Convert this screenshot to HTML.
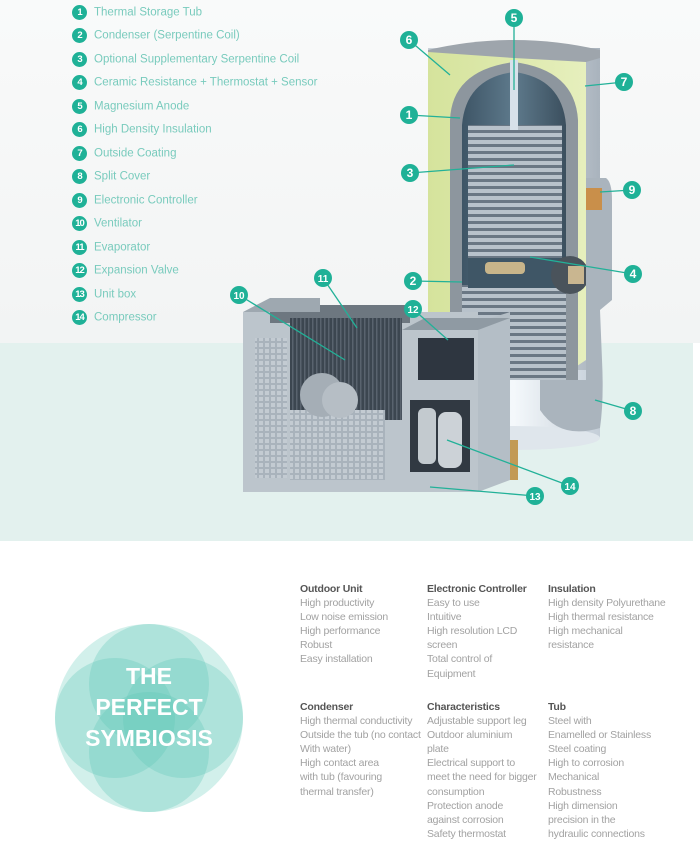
<!DOCTYPE html>
<html><head><meta charset="utf-8"><style>
html,body{margin:0;padding:0;background:#fff}
body{width:700px;height:840px;position:relative;overflow:hidden;font-family:"Liberation Sans",sans-serif}
.leg{position:absolute;left:72px;font-size:11.5px;color:#79cbbd;}
.leg b{display:inline-block;width:15px;height:15px;border-radius:50%;background:#1fb197;color:#fff;font-size:9.5px;text-align:center;line-height:15px;margin-right:7px;vertical-align:middle;letter-spacing:-1px}
.col{position:absolute;font-size:10.5px;line-height:14.1px;color:#a2a2a2;letter-spacing:-0.2px}
.col h4{margin:0;color:#555;font-size:10.5px;font-weight:bold}
</style></head><body>
<svg width="700" height="840" style="position:absolute;left:0;top:0">
<defs>
<linearGradient id="bg" x1="0" y1="0" x2="0" y2="1"><stop offset="0" stop-color="#f9fafa"/><stop offset="1" stop-color="#f2f4f4"/></linearGradient>
<linearGradient id="cyl" x1="0" y1="0" x2="1" y2="0"><stop offset="0" stop-color="#c9d1d8"/><stop offset="0.5" stop-color="#dde3e8"/><stop offset="1" stop-color="#a9b3bd"/></linearGradient>
<linearGradient id="low" x1="0" y1="0" x2="1" y2="0"><stop offset="0" stop-color="#e4ecf3"/><stop offset="0.5" stop-color="#f4f8fb"/><stop offset="1" stop-color="#c4ced8"/></linearGradient>
<linearGradient id="ins" x1="0" y1="0" x2="1" y2="0"><stop offset="0" stop-color="#d5e39c"/><stop offset="1" stop-color="#e6efbd"/></linearGradient>
<linearGradient id="tin" x1="0" y1="0" x2="1" y2="0"><stop offset="0" stop-color="#3e5566"/><stop offset="0.5" stop-color="#5e7a8c"/><stop offset="1" stop-color="#3b4f5e"/></linearGradient>
<pattern id="coil" width="6" height="7" patternUnits="userSpaceOnUse"><rect width="6" height="7" fill="#6a7784"/><rect y="0" width="6" height="4" fill="#b8c2cb"/></pattern>
<pattern id="fin" width="4" height="8" patternUnits="userSpaceOnUse"><rect width="4" height="8" fill="#3c4650"/><rect width="1.5" height="8" fill="#59636e"/></pattern>
<pattern id="gr" width="6" height="6" patternUnits="userSpaceOnUse"><rect width="6" height="6" fill="#a9b3bc"/><rect x="1" y="1" width="4" height="4" fill="#c3cbd2"/></pattern>
</defs>
<rect width="700" height="343" fill="url(#bg)"/>
<rect y="343" width="693" height="198" fill="#e3f1ee"/>
<!-- tank -->
<rect x="428" y="48" width="172" height="390" fill="url(#cyl)"/>
<rect x="428" y="370" width="172" height="68" fill="url(#low)"/>
<ellipse cx="514" cy="438" rx="86" ry="12" fill="#dfe6ec"/>
<path d="M428 50 L428 380 L556 380 L586 360 L586 60 Z" fill="url(#ins)"/>
<path d="M428 50 Q514 30 600 50 L600 58 L586 62 L514 58 L428 52 Z" fill="#9ea5ac"/>
<path d="M450 380 L450 120 Q452 70 514 62 Q575 70 578 120 L578 380 Z" fill="#8d969e"/>
<path d="M462 380 L462 125 Q466 78 514 72 Q562 78 566 125 L566 380 Z" fill="url(#tin)"/>
<rect x="468" y="125" width="94" height="140" fill="url(#coil)"/>
<rect x="462" y="285" width="104" height="95" fill="url(#coil)"/>
<rect x="468" y="258" width="94" height="30" fill="#3f5666"/>
<rect x="485" y="262" width="40" height="12" rx="4" fill="#c8b58a"/>
<rect x="510" y="60" width="8" height="70" fill="#d7e1ea"/>
<circle cx="570" cy="275" r="19" fill="#4a535b"/><rect x="568" y="266" width="16" height="18" fill="#c9b690"/>
<path d="M586 178 L606 178 Q612 182 612 200 L612 300 L600 310 L602 360 Q604 400 600 428 Q560 440 540 410 L540 380 L586 380 Z" fill="#aab4bd"/>
<rect x="586" y="188" width="16" height="22" fill="#c98f4a"/>
<!-- outdoor unit -->
<path d="M478 322 L510 312 L510 480 L478 492 Z" fill="#b4bec6"/>
<rect x="243" y="312" width="235" height="180" fill="#bcc5cc"/>
<rect x="270" y="305" width="140" height="18" fill="#6d7780"/>
<path d="M243 312 L270 298 L320 298 L320 312 Z" fill="#9ea8b0"/>
<path d="M402 330 L425 318 L510 318 L478 330 Z" fill="#8f9aa3"/>
<rect x="290" y="318" width="112" height="102" fill="url(#fin)"/>
<rect x="255" y="338" width="32" height="140" fill="url(#gr)"/>
<rect x="290" y="410" width="95" height="70" fill="url(#gr)"/>
<circle cx="322" cy="395" r="22" fill="#a5aeb6"/><circle cx="340" cy="400" r="18" fill="#b6bec5"/>
<rect x="418" y="338" width="56" height="42" fill="#2e3640"/>
<rect x="410" y="400" width="60" height="72" fill="#313942"/>
<rect x="418" y="408" width="18" height="56" rx="6" fill="#c3cacf"/><rect x="438" y="412" width="24" height="56" rx="8" fill="#ccd2d7"/>
<rect x="510" y="440" width="8" height="40" fill="#c29a55"/>
<g stroke="#22b198" stroke-width="1.3" fill="none">
<line x1="514" y1="18" x2="514" y2="90"/><line x1="409" y1="40" x2="450" y2="75"/><line x1="624" y1="82" x2="585" y2="86"/>
<line x1="409" y1="115" x2="460" y2="118"/><line x1="410" y1="173" x2="514" y2="165"/><line x1="632" y1="190" x2="600" y2="192"/>
<line x1="633" y1="274" x2="530" y2="257"/><line x1="413" y1="281" x2="462" y2="282"/><line x1="323" y1="278" x2="357" y2="328"/>
<line x1="239" y1="295" x2="345" y2="360"/><line x1="413" y1="309" x2="448" y2="340"/><line x1="633" y1="411" x2="595" y2="400"/>
<line x1="570" y1="486" x2="447" y2="440"/><line x1="535" y1="496" x2="430" y2="487"/>
</g>
<g font-family="Liberation Sans" font-weight="bold" font-size="12" fill="#fff" text-anchor="middle">
<g fill="#1fb197"><circle cx="514" cy="18" r="9"/><circle cx="409" cy="40" r="9"/><circle cx="624" cy="82" r="9"/><circle cx="409" cy="115" r="9"/><circle cx="410" cy="173" r="9"/><circle cx="632" cy="190" r="9"/><circle cx="633" cy="274" r="9"/><circle cx="413" cy="281" r="9"/><circle cx="323" cy="278" r="9"/><circle cx="239" cy="295" r="9"/><circle cx="413" cy="309" r="9"/><circle cx="633" cy="411" r="9"/><circle cx="570" cy="486" r="9"/><circle cx="535" cy="496" r="9"/></g>
<text x="514" y="22">5</text><text x="409" y="44">6</text><text x="624" y="86">7</text><text x="409" y="119">1</text><text x="410" y="177">3</text><text x="632" y="194">9</text><text x="633" y="278">4</text><text x="413" y="285">2</text><text x="323" y="282" font-size="10">11</text><text x="239" y="299" font-size="10">10</text><text x="413" y="313" font-size="10">12</text><text x="633" y="415">8</text><text x="570" y="490" font-size="10">14</text><text x="535" y="500" font-size="10">13</text>
</g>
<!-- symbiosis -->
<circle cx="149" cy="718" r="94" fill="#5cc8b6" fill-opacity="0.28"/>
<g fill="#5cc8b6" fill-opacity="0.3">
<circle cx="149" cy="684" r="60"/><circle cx="149" cy="752" r="60"/><circle cx="115" cy="718" r="60"/><circle cx="183" cy="718" r="60"/>
</g>
<g font-family="Liberation Sans" font-weight="bold" font-size="23" fill="#fff" text-anchor="middle">
<text x="149" y="684">THE</text><text x="149" y="715">PERFECT</text><text x="149" y="746">SYMBIOSIS</text>
</g>
</svg>
<div class="leg" style="top:5px"><b>1</b>Thermal Storage Tub</div>
<div class="leg" style="top:28px"><b>2</b>Condenser (Serpentine Coil)</div>
<div class="leg" style="top:52px"><b>3</b>Optional Supplementary Serpentine Coil</div>
<div class="leg" style="top:75px"><b>4</b>Ceramic Resistance + Thermostat + Sensor</div>
<div class="leg" style="top:99px"><b>5</b>Magnesium Anode</div>
<div class="leg" style="top:122px"><b>6</b>High Density Insulation</div>
<div class="leg" style="top:146px"><b>7</b>Outside Coating</div>
<div class="leg" style="top:169px"><b>8</b>Split Cover</div>
<div class="leg" style="top:193px"><b>9</b>Electronic Controller</div>
<div class="leg" style="top:216px"><b>10</b>Ventilator</div>
<div class="leg" style="top:240px"><b>11</b>Evaporator</div>
<div class="leg" style="top:263px"><b>12</b>Expansion Valve</div>
<div class="leg" style="top:287px"><b>13</b>Unit box</div>
<div class="leg" style="top:310px"><b>14</b>Compressor</div>
<div class="col" style="left:300px;top:582px"><h4>Outdoor Unit</h4>High productivity<br>Low noise emission<br>High performance<br>Robust<br>Easy installation</div>
<div class="col" style="left:427px;top:582px"><h4>Electronic Controller</h4>Easy to use<br>Intuitive<br>High resolution LCD<br>screen<br>Total control of<br>Equipment</div>
<div class="col" style="left:548px;top:582px"><h4>Insulation</h4>High density Polyurethane<br>High thermal resistance<br>High mechanical<br>resistance</div>
<div class="col" style="left:300px;top:700px"><h4>Condenser</h4>High thermal conductivity<br>Outside the tub (no contact<br>With water)<br>High contact area<br>with tub (favouring<br>thermal transfer)</div>
<div class="col" style="left:427px;top:700px"><h4>Characteristics</h4>Adjustable support leg<br>Outdoor aluminium<br>plate<br>Electrical support to<br>meet the need for bigger<br>consumption<br>Protection anode<br>against corrosion<br>Safety thermostat</div>
<div class="col" style="left:548px;top:700px"><h4>Tub</h4>Steel with<br>Enamelled or Stainless<br>Steel coating<br>High to corrosion<br>Mechanical<br>Robustness<br>High dimension<br>precision in the<br>hydraulic connections</div>
</body></html>
